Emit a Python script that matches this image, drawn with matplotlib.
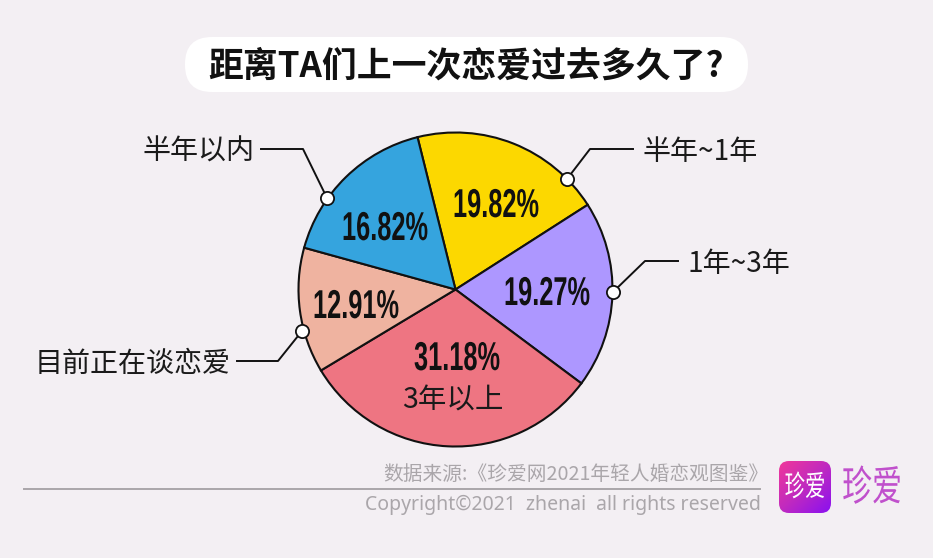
import matplotlib
matplotlib.use("Agg")
import matplotlib.pyplot as plt
import numpy as np
from matplotlib.patches import FancyBboxPatch
from matplotlib.patheffects import AbstractPathEffect
from matplotlib.transforms import Affine2D

plt.rcParams['font.family'] = ['Noto Sans CJK SC', 'DejaVu Sans']

W, H = 933, 558
BG = "#f3eff3"

# clockwise, starting from the yellow slice
categories = ["半年~1年", "1年~3年", "3年以上", "目前正在谈恋爱", "半年以内"]
values = [19.82, 19.27, 31.18, 12.91, 16.82]
colors = ["#fcd800", "#ad97ff", "#ee7582", "#efb3a0", "#35a4de"]
title = "距离TA们上一次恋爱过去多久了?"
source = "数据来源:《珍爱网2021年轻人婚恋观图鉴》"
copyright_text = "Copyright©2021  zhenai  all rights reserved"
logo_name = "珍爱"


class Squeeze(AbstractPathEffect):
    """Narrow a text horizontally around pixel column cx."""

    def __init__(self, cx, sx):
        super().__init__()
        self.cx = cx
        self.sx = sx

    def draw_path(self, renderer, gc, tpath, affine, rgbFace=None):
        squeeze = (Affine2D().translate(-self.cx, 0).scale(self.sx, 1)
                   .translate(self.cx, 0))
        renderer.draw_path(gc, tpath, affine + squeeze, rgbFace)


def yy(y):
    """Flip a y position measured from the top of the image."""
    return H - y


def draw_pie(ax):
    ax.pie(values, colors=colors, startangle=104, counterclock=False,
           center=(455.5, yy(289.5)), radius=157, frame=True,
           wedgeprops={"edgecolor": "#111111", "linewidth": 1.5})
    ax.set_xlim(0, W)
    ax.set_ylim(0, H)
    ax.set_axis_off()


def draw_title(ax):
    box = FancyBboxPatch((185 + 27, yy(92) + 27), 563 - 54, 55 - 54,
                         boxstyle="round,pad=27,rounding_size=27",
                         fc="white", ec="none")
    ax.add_patch(box)
    ax.text(466, yy(66), title, fontsize=25.1, fontweight="bold",
            ha="center", va="center", color="#111111")


def draw_percents(ax):
    places = [(496, 206), (547, 294), (457, 359), (356, 307), (385, 229)]
    for v, (x, y) in zip(values, places):
        ax.text(x, yy(y), f"{v:.2f}%", fontsize=29, fontweight="bold",
                family="Liberation Sans", ha="center", va="center",
                color="#111111", path_effects=[Squeeze(x, 0.63)])
    ax.text(453, yy(401), categories[2], fontsize=20.5, ha="center",
            va="center", color="#1a1a1a")


def draw_leaders(ax):
    leaders = [
        (categories[0], [(567, 179), (590, 149), (633, 149)], "left"),
        (categories[1], [(613, 292), (645, 261), (678, 261)], "left"),
        (categories[3], [(302, 331), (278, 361), (237, 361)], "right"),
        (categories[4], [(327, 198), (303, 149), (261, 149)], "right"),
    ]
    for name, pts, align in leaders:
        xs = [p[0] for p in pts]
        ys = [yy(p[1]) for p in pts]
        ax.plot(xs, ys, color="#111111", lw=1.4, zorder=3)
        ax.plot(xs[0], ys[0], "o", ms=9.5, mfc="white", mec="#111111",
                mew=1.3, zorder=4)
        shift = 10 if align == "left" else -6
        ax.text(xs[-1] + shift, ys[-1] - 3, name, fontsize=20.2, ha=align,
                va="center", color="#1a1a1a")


def draw_footer(ax):
    ax.text(768, yy(475), source, fontsize=14.2, ha="right", va="center",
            color="#aaa6aa")
    ax.plot([24, 760], [yy(489), yy(489)], color="#a9a5a9", lw=1.4)
    ax.text(761, yy(505), copyright_text, fontsize=14, ha="right",
            va="center", color="#aaa6aa", family="Noto Sans")


def draw_logo(ax):
    x0, x1, y0, y1 = 779, 831, yy(513), yy(461)
    t = np.linspace(0, 1, 64)
    grad = np.add.outer(t, t) / 2
    cmap = matplotlib.colors.LinearSegmentedColormap.from_list(
        "logo", ["#f0389a", "#c02ac0", "#8a10f0"])
    im = ax.imshow(grad, extent=(x0, x1, y0, y1), cmap=cmap, origin="upper",
                   zorder=2, aspect="auto")
    clip = FancyBboxPatch((x0 + 10, y0 + 10), 32, 32,
                          boxstyle="round,pad=10,rounding_size=10",
                          fc="none", ec="none", transform=ax.transData)
    ax.add_patch(clip)
    im.set_clip_path(clip)
    ax.set_xlim(0, W)
    ax.set_ylim(0, H)
    ax.text(805, yy(488), logo_name, fontsize=21, color="white", ha="center",
            va="center", zorder=3, path_effects=[Squeeze(805, 0.7)])
    ax.text(872, yy(489), logo_name, fontsize=30, color="#c050cc",
            ha="center", va="center", path_effects=[Squeeze(872, 0.72)])


def main():
    fig = plt.figure(figsize=(W / 100, H / 100), dpi=100, facecolor=BG)
    ax = fig.add_axes([0, 0, 1, 1])
    draw_pie(ax)
    draw_title(ax)
    draw_percents(ax)
    draw_leaders(ax)
    draw_footer(ax)
    draw_logo(ax)
    fig.savefig("out.png", dpi=100, facecolor=BG)


if __name__ == "__main__":
    main()
